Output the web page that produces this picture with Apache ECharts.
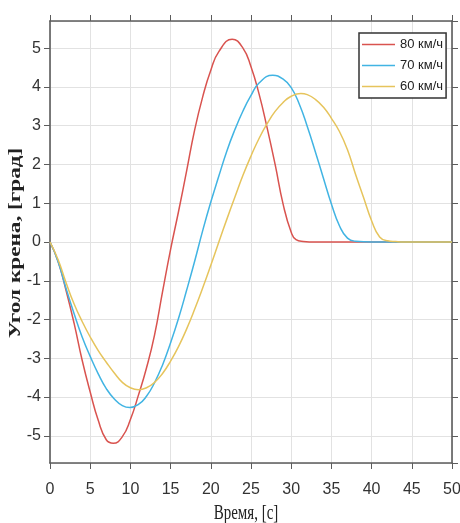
<!DOCTYPE html>
<html>
<head>
<meta charset="utf-8">
<script src="https://cdn.jsdelivr.net/npm/echarts@6/dist/echarts.min.js"></script>
<style>
  html, body { margin: 0; padding: 0; background: #fff; }
  #main { width: 460px; height: 523px; }
</style>
</head>
<body>
<div id="main"></div>
<script>
var names = ['80 км/ч', '70 км/ч', '60 км/ч'];

// время, с (точки экстремумов добавлены отдельно)
var t80 = [0, 1, 2, 3, 4, 5, 6, 7, 7.86, 9, 10, 11, 12, 13, 14, 15, 16, 17, 18, 19,
    20, 21, 22.66, 24, 25, 26, 27, 28, 29, 30, 30.6, 31.5, 33, 35, 40, 45, 50];
var v80 = [0, -0.5, -1.25, -2.1, -3.05, -3.87, -4.6, -5.1, -5.19, -5.02, -4.58, -3.95, -3.25, -2.4, -1.28, -0.19, 0.8, 1.84, 2.9, 3.75,
    4.43, 4.91, 5.23, 5.0, 4.52, 3.82, 2.95, 2.0, 0.97, 0.25, 0.06, 0.015, 0, 0, 0, 0, 0];

var t70 = [0, 1, 2, 3, 4, 5, 6, 7, 8, 9, 9.93, 11, 12, 13, 14, 15, 16, 17, 18, 19,
    20, 21, 22, 23, 24, 25, 26, 27.7, 29, 30, 31, 32, 33, 34, 35, 36, 37, 38, 40, 45, 50];
var v70 = [0, -0.5, -1.2, -1.85, -2.45, -2.95, -3.4, -3.78, -4.05, -4.22, -4.27, -4.19, -3.98, -3.63, -3.17, -2.6, -1.96, -1.24, -0.49, 0.3,
    1.03, 1.7, 2.35, 2.9, 3.38, 3.78, 4.1, 4.3, 4.2, 3.98, 3.56, 2.98, 2.33, 1.65, 0.98, 0.42, 0.1, 0.02, 0, 0, 0];

var t60 = [0, 1, 2, 3, 4, 5, 6, 7, 8, 9, 10, 11, 12, 13, 14, 15, 16, 17, 18, 19,
    20, 21, 22, 23, 24, 25, 26, 27, 28, 29, 30, 31.2, 32, 33, 34, 35, 36, 37, 38, 39,
    40, 41, 42, 43, 44, 46, 50];
var v60 = [0, -0.45, -1.05, -1.6, -2.05, -2.45, -2.8, -3.1, -3.38, -3.62, -3.76, -3.81, -3.76, -3.62, -3.39, -3.07, -2.69, -2.24, -1.73, -1.18,
    -0.6, 0, 0.59, 1.16, 1.72, 2.22, 2.67, 3.05, 3.37, 3.6, 3.76, 3.83, 3.8, 3.68, 3.48, 3.19, 2.85, 2.38, 1.75, 1.15,
    0.55, 0.13, 0.03, 0.01, 0, 0, 0];

var colors = ['#d9534f', '#41b4e3', '#e6c45c'];

var myChart = echarts.init(document.getElementById('main'));

function pairs(ts, vals) {
    return ts.map(function(t, i) { return [t, vals[i]]; });
}

var axisLine = { show: true, onZero: false, lineStyle: { color: '#5c5c5c', width: 1.6 } };
var axisTick = { show: true, length: 6, lineStyle: { color: '#5c5c5c', width: 1 } };
var tickFont = { color: '#333', fontSize: 16, fontFamily: '"Liberation Sans Narrow", "Liberation Sans", Arial, sans-serif' };
var serif = '"Liberation Serif", "Times New Roman", serif';

var option = {
    animation: false,
    backgroundColor: '#fff',
    color: colors,
    grid: { left: 50, right: 8, top: 21, bottom: 60, containLabel: false, outerBoundsMode: 'none' },
    legend: {
        orient: 'vertical',
        left: 359,
        top: 33,
        data: names,
        icon: 'rect',
        itemWidth: 33,
        itemHeight: 1.5,
        itemGap: 8,
        padding: [5, 3, 5, 3],
        backgroundColor: '#fff',
        borderColor: '#333',
        borderWidth: 1.5,
        borderRadius: 0,
        textStyle: { color: '#222', fontSize: 13, fontFamily: '"Liberation Sans", Arial, sans-serif' }
    },
    // подписи осей, растянутые по вертикали как на исходнике
    graphic: [{
        type: 'text',
        x: 16,
        y: 243,
        rotation: Math.PI / 2,
        scaleX: 1.45,
        style: { text: 'Угол крена, [град]', font: 'bold 16px ' + serif, fill: '#222', align: 'center', verticalAlign: 'middle' }
    }, {
        type: 'text',
        x: 246,
        y: 514,
        scaleY: 1.35,
        style: { text: 'Время, [с]', font: '15px ' + serif, fill: '#222', align: 'center', verticalAlign: 'middle' }
    }],
    xAxis: [{
        type: 'value',
        min: 0,
        max: 50,
        interval: 5,
        axisLine: axisLine,
        axisTick: axisTick,
        axisLabel: Object.assign({ margin: 19 }, tickFont),
        splitLine: { show: true, lineStyle: { color: '#e2e2e2', width: 1 } }
    }, {
        type: 'value',
        position: 'top',
        min: 0,
        max: 50,
        interval: 5,
        axisLine: axisLine,
        axisTick: axisTick,
        axisLabel: { show: false },
        splitLine: { show: false }
    }],
    yAxis: [{
        type: 'value',
        min: -5.7,
        max: 5.7,
        splitNumber: 11,
        axisLine: axisLine,
        axisTick: axisTick,
        axisLabel: Object.assign({ margin: 9, showMinLabel: false, showMaxLabel: false }, tickFont),
        splitLine: { show: true, lineStyle: { color: '#e2e2e2', width: 1 } }
    }, {
        type: 'value',
        position: 'right',
        min: -5.7,
        max: 5.7,
        splitNumber: 11,
        axisLine: axisLine,
        axisTick: axisTick,
        axisLabel: { show: false },
        splitLine: { show: false }
    }],
    series: names.map(function(n, k) {
        return {
            name: n,
            type: 'line',
            data: pairs([t80, t70, t60][k], [v80, v70, v60][k]),
            smooth: 0.5,
            showSymbol: false,
            symbol: 'none',
            lineStyle: { width: 1.5, color: colors[k] }
        };
    })
};

myChart.setOption(option);
</script>
</body>
</html>
